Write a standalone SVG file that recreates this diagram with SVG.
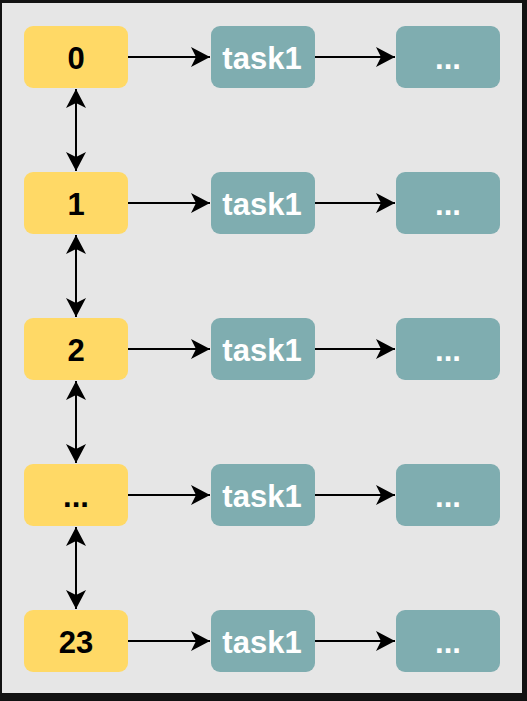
<svg xmlns="http://www.w3.org/2000/svg" width="527" height="701" viewBox="0 0 527 701">
<defs>
<style>
.y{fill:#FFD966}
.t{fill:#7FADB0}
.yl{font-family:"Liberation Sans",Arial,sans-serif;font-weight:bold;font-size:31px;fill:#000;text-anchor:middle}
.tl{font-family:"Liberation Sans",Arial,sans-serif;font-weight:bold;font-size:31px;fill:#fff;text-anchor:middle}
.c{stroke:#000;stroke-width:2;fill:none}
</style>
<marker id="ah" markerUnits="userSpaceOnUse" viewBox="-20 -11 21 22" refX="0" refY="0" markerWidth="21" markerHeight="22" orient="auto-start-reverse">
<path d="M0,0 L-19,-10 L-14,0 L-19,10 Z" fill="#000"/>
</marker>
</defs>
<rect x="0" y="0" width="527" height="701" fill="#121212"/>
<rect x="2" y="3" width="520" height="690" fill="#E6E6E6"/>
<g id="connectors">
<path class="c" d="M128,57 H210" marker-end="url(#ah)"/>
<path class="c" d="M315,57 H395" marker-end="url(#ah)"/>
<path class="c" d="M128,203 H210" marker-end="url(#ah)"/>
<path class="c" d="M315,203 H395" marker-end="url(#ah)"/>
<path class="c" d="M128,349 H210" marker-end="url(#ah)"/>
<path class="c" d="M315,349 H395" marker-end="url(#ah)"/>
<path class="c" d="M128,495 H210" marker-end="url(#ah)"/>
<path class="c" d="M315,495 H395" marker-end="url(#ah)"/>
<path class="c" d="M128,641 H210" marker-end="url(#ah)"/>
<path class="c" d="M315,641 H395" marker-end="url(#ah)"/>
<path class="c" d="M76,89 V171" marker-start="url(#ah)" marker-end="url(#ah)"/>
<path class="c" d="M76,235 V317" marker-start="url(#ah)" marker-end="url(#ah)"/>
<path class="c" d="M76,381 V463" marker-start="url(#ah)" marker-end="url(#ah)"/>
<path class="c" d="M76,527 V609" marker-start="url(#ah)" marker-end="url(#ah)"/>
</g>
<g id="n0"><rect class="y" x="24" y="26" width="104" height="62" rx="9"/><text class="yl" x="76" y="69">0</text></g>
<g id="n1"><rect class="y" x="24" y="172" width="104" height="62" rx="9"/><text class="yl" x="76" y="215">1</text></g>
<g id="n2"><rect class="y" x="24" y="318" width="104" height="62" rx="9"/><text class="yl" x="76" y="361">2</text></g>
<g id="n3"><rect class="y" x="24" y="464" width="104" height="62" rx="9"/><text class="yl" x="76" y="507">...</text></g>
<g id="n23"><rect class="y" x="24" y="610" width="104" height="62" rx="9"/><text class="yl" x="76" y="653">23</text></g>
<g id="t0"><rect class="t" x="211" y="26" width="104" height="62" rx="9"/><text class="tl" x="262" y="69">task1</text></g>
<g id="t1"><rect class="t" x="211" y="172" width="104" height="62" rx="9"/><text class="tl" x="262" y="215">task1</text></g>
<g id="t2"><rect class="t" x="211" y="318" width="104" height="62" rx="9"/><text class="tl" x="262" y="361">task1</text></g>
<g id="t3"><rect class="t" x="211" y="464" width="104" height="62" rx="9"/><text class="tl" x="262" y="507">task1</text></g>
<g id="t4"><rect class="t" x="211" y="610" width="104" height="62" rx="9"/><text class="tl" x="262" y="653">task1</text></g>
<g id="e0"><rect class="t" x="396" y="26" width="104" height="62" rx="9"/><text class="tl" x="448" y="69">...</text></g>
<g id="e1"><rect class="t" x="396" y="172" width="104" height="62" rx="9"/><text class="tl" x="448" y="215">...</text></g>
<g id="e2"><rect class="t" x="396" y="318" width="104" height="62" rx="9"/><text class="tl" x="448" y="361">...</text></g>
<g id="e3"><rect class="t" x="396" y="464" width="104" height="62" rx="9"/><text class="tl" x="448" y="507">...</text></g>
<g id="e4"><rect class="t" x="396" y="610" width="104" height="62" rx="9"/><text class="tl" x="448" y="653">...</text></g>
</svg>
